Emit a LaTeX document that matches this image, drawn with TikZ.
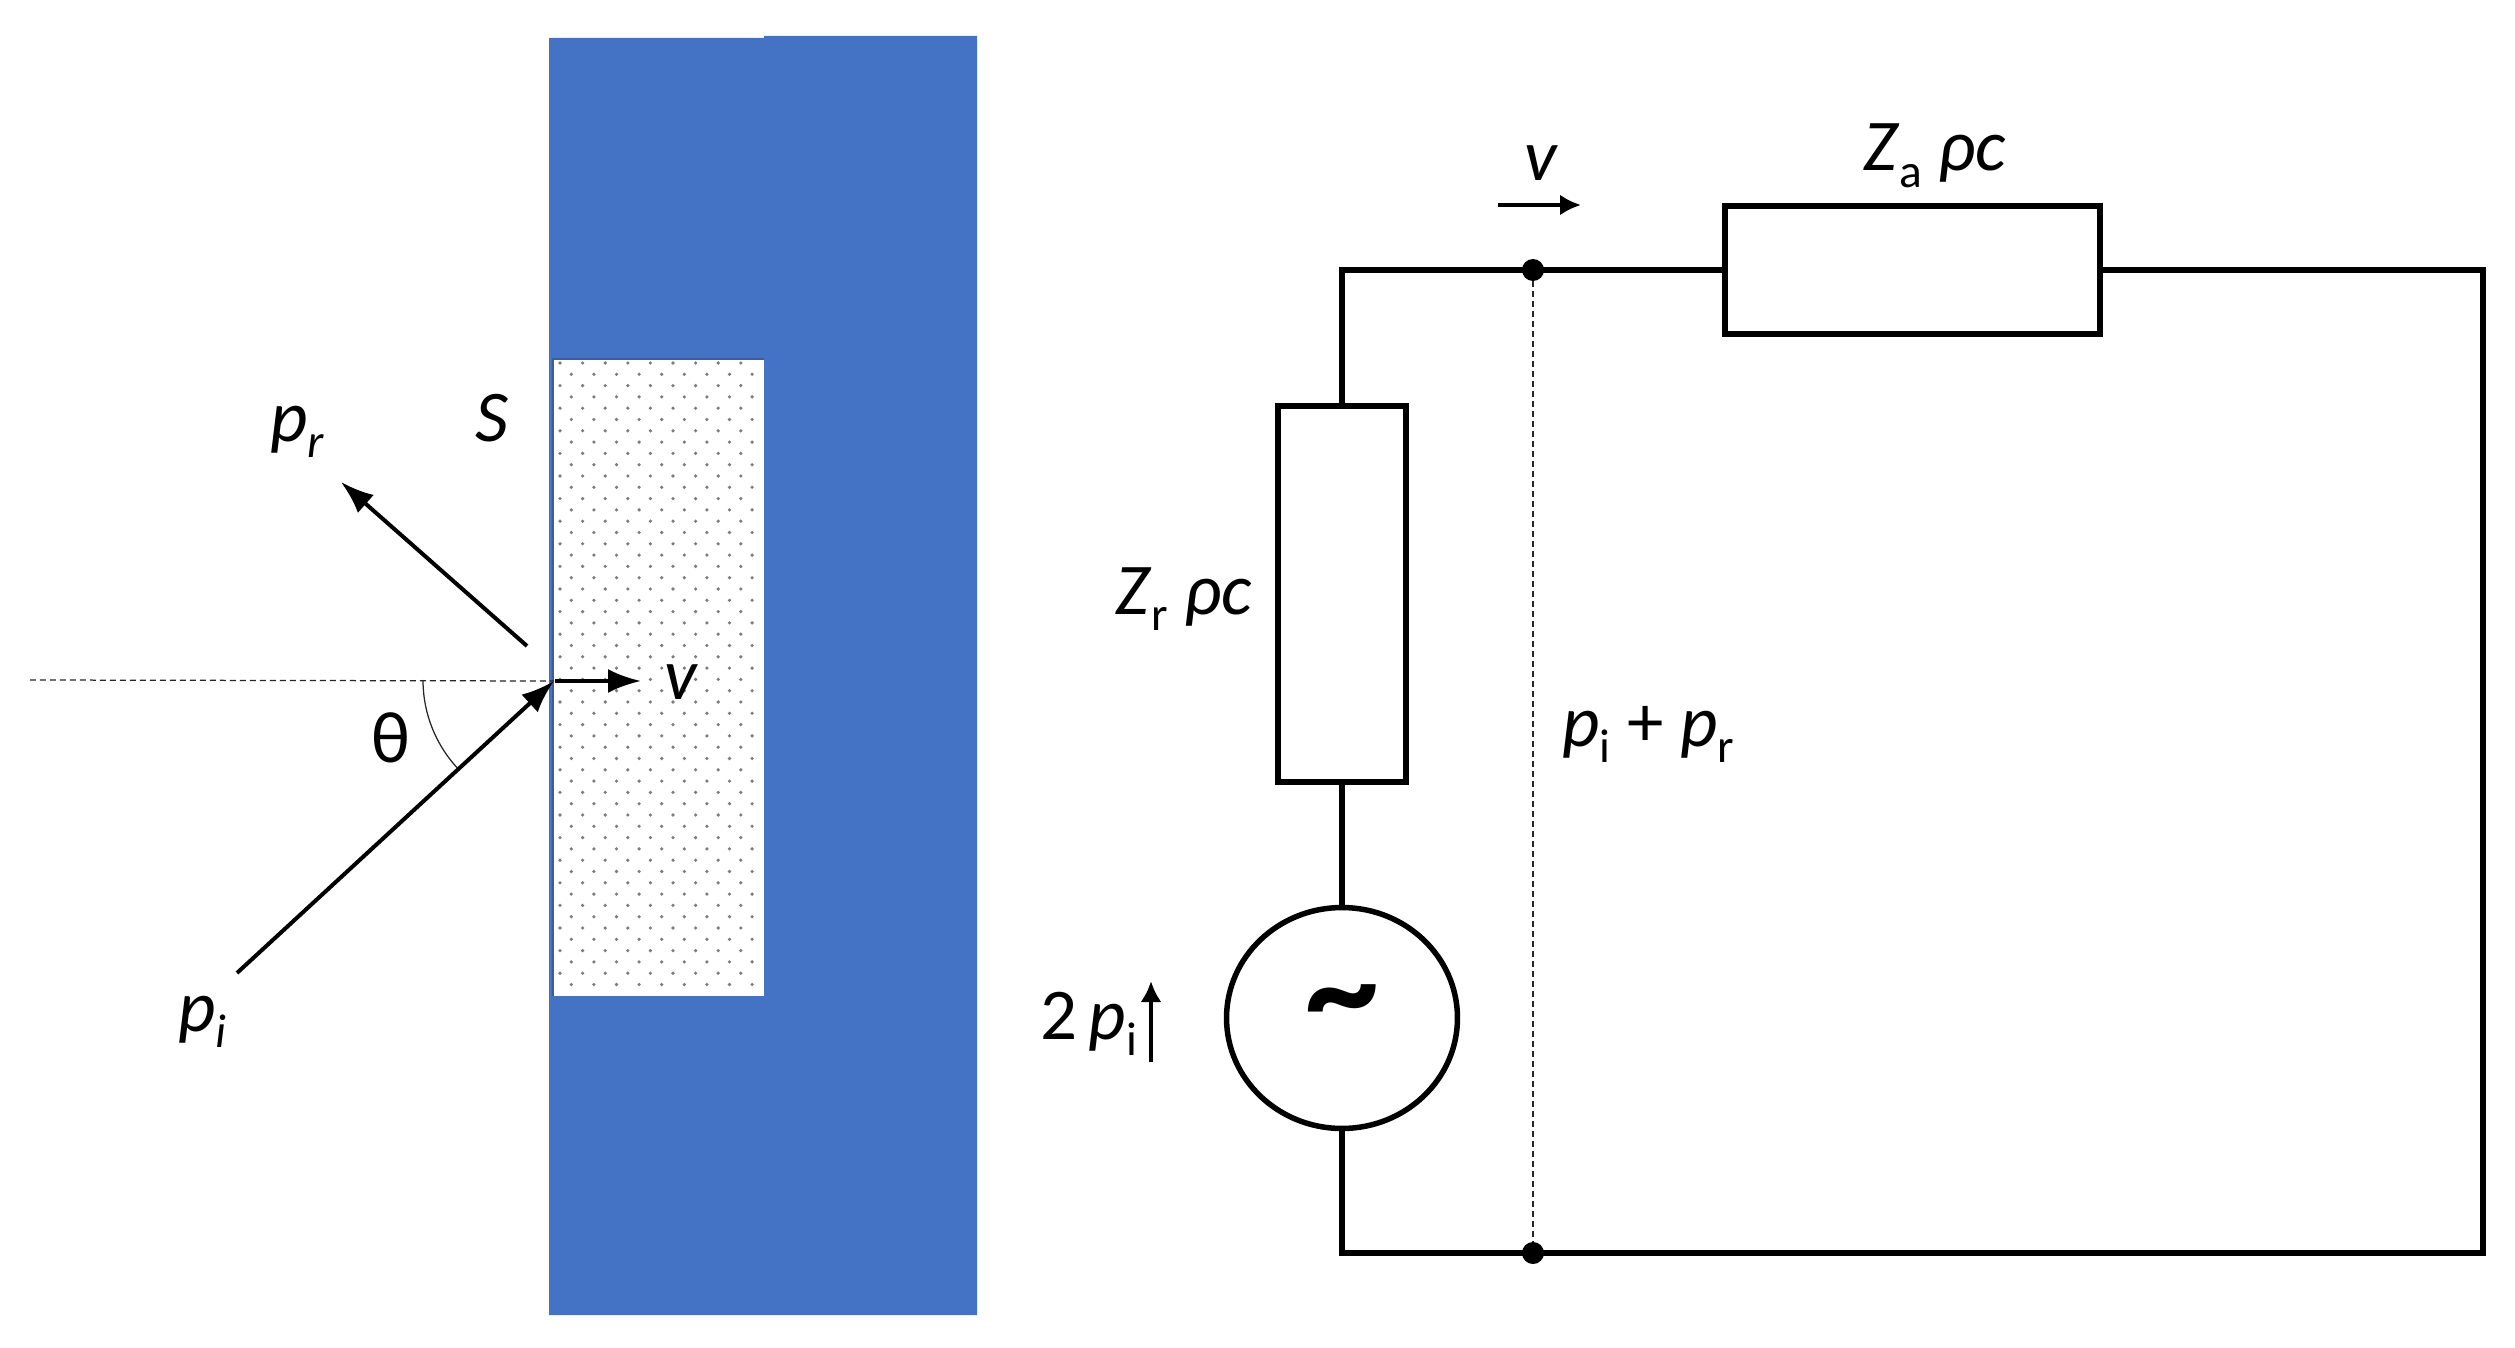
\documentclass[tikz,border=0pt]{standalone}
\usepackage{fontspec}
\setmainfont{Carlito}
\usetikzlibrary{shapes.geometric, arrows.meta}
\definecolor{wallblue}{HTML}{4472C4}
\definecolor{wallline}{HTML}{3F5C96}
\newcommand{\subt}[1]{\raisebox{-0.22em}{\fontsize{27}{30}\selectfont #1}}

\begin{document}
\begin{tikzpicture}[x=0.02cm, y=-0.02cm, >=latex]
		\tikzstyle{lbl}=[inner sep=0, anchor=base west, font=\fontsize{41.5}{50}\selectfont]
		\tikzstyle{wire}=[line width=0.11cm, line join=miter]
		\tikzstyle{connect}=[-{Latex[length=0.66cm, width=0.48cm]}, line width=0.08cm]
		\tikzstyle{connectsmall}=[-{Latex[length=0.42cm, width=0.42cm]}, line width=0.085cm]
		\tikzstyle{thinline}=[line width=0.025cm, black!85]
		\tikzstyle{guide}=[thinline, dash pattern=on 0.12cm off 0.08cm]
		\tikzstyle{box}=[rectangle, draw=black, line width=0.11cm, fill=white, inner sep=0]
		\tikzstyle{junction}=[circle, fill=black, inner sep=0, minimum size=0.44cm]
		\useasboundingbox (0,0) rectangle (2515,1348);
		\fill[white] (0,0) rectangle (2515,1348);
		% absorber
		\fill[wallblue] (549,38) -- (764,38) -- (764,36) -- (977,36) -- (977,1315) -- (549,1315) -- cycle;
		\fill[white] (554,360) rectangle (764,996);
		\draw[wallline, line width=0.05cm] (553,996) -- (553,359) -- (764,359);
		\foreach \row in {0,...,55} {
			\pgfmathsetmacro{\dx}{mod(\row,2)*11.3}
			\pgfmathsetmacro{\dy}{\row*11.3}
			\foreach \col in {0,...,8} {
				\fill[black!60, opacity=0.85] (560+\dx+\col*22.6,363+\dy) circle [radius=1.8];
			}
		}
		% left part
		\coordinate (far) at (30,680);
		\coordinate (hit) at (554,681);
		\coordinate (in) at (237,973);
		\coordinate (out) at (527,646);
		\coordinate (outend) at (341,482);
		\coordinate (vstart) at (555,681);
		\coordinate (vend) at (641,681);
		\coordinate (arcstart) at (423,680);
		\node[lbl] (s) at (475,441) {\textit{S}};
		\node[lbl] (p_r) at (270,441) {\textit{p}\subt{\textit{r}}};
		\node[lbl] (p_i) at (178,1031) {\textit{p}\subt{\textit{i}}};
		\node[lbl] (v_left) at (664,699) {\textit{v}};
		\node[lbl, anchor=center] (theta) at (391,738) {θ};
		\draw[guide] (far) -- (hit);
		\draw[thinline] (arcstart) arc [start angle=180, delta angle=-42.6, radius=130];
		\path
		(in) edge [connect] (hit)
		(out) edge [connect] (outend)
		(vstart) edge [connect] (vend)
		;
		% circuit
		\node[box, minimum width=2.56cm, minimum height=7.52cm] (z_r) at (1342,594) {};
		\node[box, minimum width=7.5cm, minimum height=2.56cm] (z_a) at (1912.5,270) {};
		\node[ellipse, draw=black, line width=0.11cm, inner sep=0, minimum width=4.62cm, minimum height=4.42cm] (source) at (1342,1018) {};
		\node[inner sep=0, font=\fontsize{84}{84}\selectfont\bfseries] (tilde) at (1342,1012) {\textasciitilde};
		\node[junction] (top) at (1533,270) {};
		\node[junction] (bottom) at (1533,1253) {};
		\coordinate (ne) at (2483,270);
		\coordinate (se) at (2483,1253);
		\coordinate (varrow1) at (1498,205);
		\coordinate (varrow2) at (1581,205);
		\coordinate (srcarrow1) at (1151,1062);
		\coordinate (srcarrow2) at (1151,981);
		\node[lbl] (z_a_lbl) at (1863,171) {\textit{Z}\subt{a} \textit{ρc}};
		\node[lbl] (z_r_lbl) at (1115,614) {\textit{Z}\subt{r} \textit{ρc}};
		\node[lbl] (v_top) at (1524,181) {\textit{v}};
		\node[lbl] (sum) at (1562,746) {\textit{p}\subt{i} + \textit{p}\subt{r}};
		\node[lbl] (twop) at (1040,1039) {2\hspace{0.16em}\textit{p}\subt{i}};
		\draw[wire] (z_r.north) |- (top.center) -- (z_a.west);
		\draw[wire] (z_a.east) -- (ne) -- (se) -- (bottom.center) -| (source.south);
		\draw[wire] (z_r.south) -- (source.north);
		\draw[guide] (top) -- (bottom);
		\path
		(varrow1) edge [connectsmall] (varrow2)
		(srcarrow1) edge [connectsmall] (srcarrow2)
		;
	\end{tikzpicture}
\end{document}
